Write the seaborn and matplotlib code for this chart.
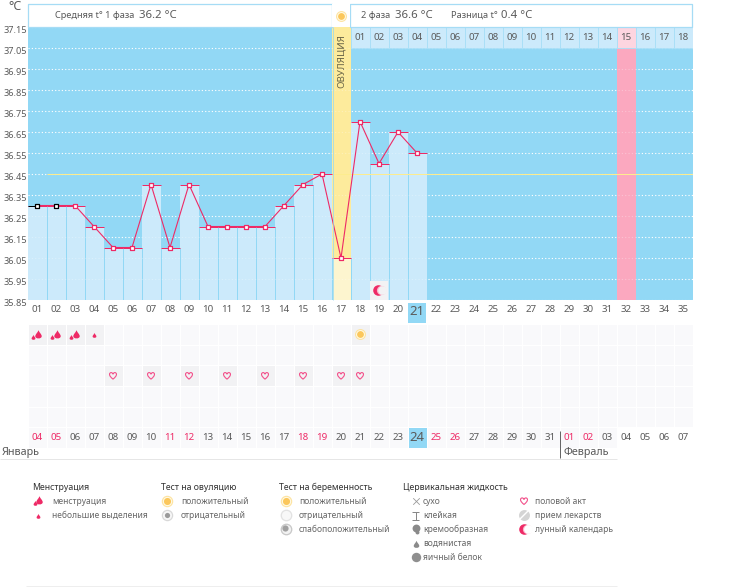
import numpy as np
import matplotlib
matplotlib.use("Agg")
import matplotlib.pyplot as plt
import seaborn as sns
from matplotlib.colors import ListedColormap
from matplotlib.path import Path
from matplotlib.transforms import ScaledTranslation

# Data
days = np.arange(1, 22)
temps = [36.3, 36.3, 36.3, 36.2, 36.1, 36.1, 36.4, 36.1, 36.4, 36.2, 36.2,
         36.2, 36.2, 36.3, 36.4, 36.45, 36.05, 36.7, 36.5, 36.65, 36.55]
cycle_days = np.arange(1, 36)
y_ticks = [37.15, 37.05, 36.95, 36.85, 36.75, 36.65, 36.55, 36.45, 36.35,
           36.25, 36.15, 36.05, 35.95, 35.85]
cover_temp = 36.45
ovulation_day = 17
expected_day = 32
today = 21
luteal_labels = ["%02d" % d for d in range(1, 19)]
date_labels = ["04", "05", "06", "07", "08", "09", "10", "11", "12", "13", "14", "15",
               "16", "17", "18", "19", "20", "21", "22", "23", "24", "25", "26", "27",
               "28", "29", "30", "31", "01", "02", "03", "04", "05", "06", "07"]
weekend_days = [1, 2, 8, 9, 15, 16, 22, 23, 29, 30]
heavy_days = [1, 2, 3]
light_days = [4]
test_days = [18]
heart_days = [5, 7, 9, 11, 13, 15, 17, 18]
moon_day = 19

BG_BLUE = "#92d8f5"
BAR_BLUE = "#cceafb"
YELLOW = "#fdeb9c"
PALE_YELLOW = "#fdf5cf"
PINK = "#fba8bf"
CRIMSON = "#ee2a66"
GREY_TEXT = "#5a5a5a"
CELL = "#f9f9fb"
CELL_ON = "#f2f2f4"
ONE_PX = 0.72  # a line this wide stays on one pixel row

C4 = Path.CURVE4
DROP = Path([(0, 1), (0.2, 0.45), (0.75, 0.05), (0.75, -0.4), (0.75, -1.1), (-0.75, -1.1),
             (-0.75, -0.4), (-0.75, 0.05), (-0.2, 0.45), (0, 1), (0, 1)],
            [Path.MOVETO, C4, C4, C4, C4, C4, C4, C4, C4, C4, Path.CLOSEPOLY])
HEART = Path([(0, -1), (-0.6, -0.5), (-1, -0.1), (-1, 0.4), (-1, 1), (-0.2, 1.1), (0, 0.45),
              (0.2, 1.1), (1, 1), (1, 0.4), (1, -0.1), (0.6, -0.5), (0, -1), (0, -1)],
             [Path.MOVETO, C4, C4, C4, C4, C4, C4, C4, C4, C4, C4, C4, C4, Path.CLOSEPOLY])

sns.set_style("white")
plt.rcParams["font.family"] = ["Noto Sans", "DejaVu Sans"]

W, H = 730, 587
fig = plt.figure(figsize=(W / 100, H / 100), dpi=100, facecolor="white")


def px_axes(x0, y0, x1, y1):
    return fig.add_axes([x0 / W, 1 - y1 / H, (x1 - x0) / W, (y1 - y0) / H])


def sun(ax, x, y, size=1.0, zorder=6):
    ax.scatter([x], [y], s=62 * size, color="#fde3a0", linewidths=0, zorder=zorder)
    ax.scatter([x], [y], s=40 * size, color="#fffbe8", linewidths=0, zorder=zorder)
    ax.scatter([x], [y], s=24 * size, color="#fbc75c", linewidths=0, zorder=zorder)


def moon(ax, x, y, back):
    ax.scatter([x], [y], s=58, color=CRIMSON, linewidths=0, zorder=6)
    ax.scatter([x + 3], [y], s=44, color="#fbb6cb", linewidths=0, zorder=6)
    ax.scatter([x + 4], [y], s=40, color=back, linewidths=0, zorder=6)


# Main temperature chart
ax = px_axes(27.5, 27, 692.5, 300)
ax.set_facecolor(BG_BLUE)
ax.set_axisbelow(True)
ax.yaxis.grid(True, color="white", lw=0.8, ls=(0, (1, 2)))
ax.xaxis.grid(False)

ax.fill_between([ovulation_day - 0.5, ovulation_day + 0.5], 35.85, 37.15, color=YELLOW, lw=0, zorder=1)
ax.fill_between([expected_day - 0.5, expected_day + 0.5], 35.85, 37.05, color=PINK, lw=0, zorder=1)

sns.barplot(x=days, y=temps, native_scale=True, width=1, color=BAR_BLUE, saturation=1,
            errorbar=None, linewidth=0, ax=ax, zorder=2)
ax.patches[ovulation_day - 1].set_facecolor(PALE_YELLOW)

# column separators only go up to the lower neighbour
for i in range(len(temps) - 1):
    top = min(temps[i], temps[i + 1])
    ax.vlines(days[i] + 0.5, 35.85, top, color=BG_BLUE, lw=ONE_PX, zorder=3)

# faint grid showing through the bars
ax.hlines(y_ticks[1:-1], 0.5, 35.5, color="white", lw=0.8, ls=(0, (1, 2)), alpha=0.3, zorder=3)

# luteal day header row
luteal_days = cycle_days[17:]
for d, lab in zip(luteal_days, luteal_labels):
    ax.bar(d, 0.1, bottom=37.05, width=1, color="#fdd5e0" if d == expected_day else BAR_BLUE,
           edgecolor="#a8dff7", linewidth=0.6, zorder=3)
    ax.text(d, 37.1, lab, ha="center", va="center", fontsize=7, color=GREY_TEXT, zorder=5)

ax.hlines(cover_temp, 1.5, 35.5, color="#fdec8e", lw=ONE_PX, zorder=4)
ax.hlines(temps, days - 0.5, days + 0.5, color=CRIMSON, lw=ONE_PX, zorder=4)
ax.hlines(temps[0], 0.5, 1, color="black", lw=ONE_PX, zorder=5)
sns.lineplot(x=days, y=temps, color=CRIMSON, lw=0.8, ax=ax, zorder=5, errorbar=None)
sns.scatterplot(x=days[2:], y=temps[2:], marker="s", s=10, color="white", edgecolor=CRIMSON,
                linewidth=0.9, ax=ax, zorder=6)
sns.scatterplot(x=days[:2], y=temps[:2], marker="s", s=10, color="white", edgecolor="black",
                linewidth=0.9, ax=ax, zorder=6)

ax.text(ovulation_day, 36.99, "ОВУЛЯЦИЯ", rotation=90, ha="center", va="center",
        fontsize=7, color="#6a6548", zorder=5)

# moon calendar cell on the chart
ax.bar(moon_day, 0.09, bottom=35.85, width=0.95, color=CELL_ON, linewidth=0, zorder=4)
ax.scatter([moon_day - 0.05], [35.9], s=58, color=CRIMSON, linewidths=0, zorder=6)
ax.scatter([moon_day + 0.1], [35.9], s=44, color="#fbb6cb", linewidths=0, zorder=6)
ax.scatter([moon_day + 0.17], [35.9], s=38, color=CELL_ON, linewidths=0, zorder=6)

# today's highlight under the axis
ax.bar(today, 0.095, bottom=35.74, width=0.95, color=BG_BLUE, linewidth=0, clip_on=False, zorder=0.2)

ax.set_xlim(0.5, 35.5)
ax.set_ylim(35.85, 37.15)
ax.set_xticks(cycle_days)
ax.set_xticklabels(["%02d" % d for d in cycle_days], fontsize=7, color=GREY_TEXT)
ax.xaxis.get_ticklabels()[today - 1].set_fontsize(9.5)
ax.set_yticks(y_ticks)
ax.set_yticklabels(["%.2f" % v for v in y_ticks], fontsize=6.6, color=GREY_TEXT)
ax.tick_params(axis="both", length=0)
ax.tick_params(axis="x", pad=3.5)
ax.tick_params(axis="y", pad=0.5)
shift = ScaledTranslation(0, -2.5 / 100, fig.dpi_scale_trans)
for lab in ax.get_yticklabels():
    lab.set_transform(lab.get_transform() + shift)
ax.set_xlabel("")
ax.set_ylabel("")
for s in ax.spines.values():
    s.set_visible(False)

# Symptom rows and calendar dates
ax_rows = px_axes(27.5, 324, 692.5, 448)
cells = np.zeros((6, 35))
for d in heavy_days + light_days + test_days:
    cells[0, d - 1] = 1
for d in heart_days:
    cells[2, d - 1] = 1
cells[5, today - 1] = 2
cell_mask = np.zeros_like(cells, dtype=bool)
cell_mask[5, 31:] = True
sns.heatmap(cells, mask=cell_mask, cmap=ListedColormap([CELL, CELL_ON, BG_BLUE]), vmin=0, vmax=2,
            cbar=False, linewidths=0.7, linecolor="white", xticklabels=False, yticklabels=False, ax=ax_rows)
for d, lab in zip(cycle_days, date_labels):
    size = 9.5 if d == today else 7
    ax_rows.text(d - 0.5, 5.5, lab, ha="center", va="center", fontsize=size,
                 color=CRIMSON if d in weekend_days else GREY_TEXT)

# icons on the rows, 1 row is about 20.7 px and 1 column 19 px
for d in heavy_days:
    ax_rows.scatter([d - 0.46], [0.48], s=46, marker=DROP, color=CRIMSON, linewidths=0, zorder=6)
    ax_rows.scatter([d - 0.69], [0.62], s=16, marker=DROP, color=CRIMSON, linewidths=0, zorder=6)
for d in light_days:
    ax_rows.scatter([d - 0.5], [0.52], s=16, marker=DROP, color=CRIMSON, linewidths=0, zorder=6)
for d in test_days:
    sun(ax_rows, d - 0.5, 0.5)
for d in heart_days:
    ax_rows.scatter([d - 0.5], [2.5], s=30, marker=HEART, facecolor="none", edgecolor="#f2508a",
                    linewidth=0.8, zorder=6)
ax_rows.vlines(28, 5.2, 6.5, color="#666666", lw=ONE_PX, clip_on=False)

# Overlay in pixel coordinates: header boxes, month labels, legend
ov = fig.add_axes([0, 0, 1, 1], facecolor="none")
ov.set_xlim(0, W)
ov.set_ylim(H, 0)
ov.axis("off")


def header_box(x0, x1):
    ov.fill_between([x0, x1], 3.5, 27, facecolor="white", edgecolor="#a6dcf5", lw=0.9)


def label(x, y, s, size=6.6, color=GREY_TEXT, **kw):
    ov.text(x, y, s, fontsize=size, color=color, va="center", ha=kw.pop("ha", "left"), **kw)


header_box(27.5, 332)
header_box(350, 692)
ov.fill_between([332, 350], 3.5, 27, facecolor="white", lw=0)
ov.vlines(332.5, 27, 300, color=BG_BLUE, lw=0.5)
sun(ov, 341, 16)
label(55, 15.5, "Средняя t° 1 фаза")
label(139, 15.5, "36.2 °C", size=8.2)
label(361, 15.5, "2 фаза")
label(395, 15.5, "36.6 °C", size=8.2)
label(451, 15.5, "Разница t°")
label(501, 15.5, "0.4 °C", size=8.2)
label(8, 7, "°C", size=9)

label(2, 453, "Январь", size=7.8)
label(563, 453, "Февраль", size=7.8)
ov.hlines(458.5, 0, 617, color="#e6e6e6", lw=ONE_PX)
ov.hlines(585.5, 26, 617, color="#eeeeee", lw=ONE_PX)

# Legend
HEAD = "#333333"
TXT = "#666666"
LEG = 6.1
label(32, 487, "Менструация", size=LEG + 0.2, color=HEAD)
label(52, 501, "менструация", size=LEG, color=TXT)
label(52, 515, "небольшие выделения", size=LEG, color=TXT)
ov.scatter([38.5], [500], s=46, marker=DROP, color=CRIMSON, linewidths=0)
ov.scatter([34.5], [503], s=16, marker=DROP, color=CRIMSON, linewidths=0)
ov.scatter([37.5], [516], s=16, marker=DROP, color=CRIMSON, linewidths=0)

label(161, 487, "Тест на овуляцию", size=LEG + 0.2, color=HEAD)
label(181, 501, "положительный", size=LEG, color=TXT)
label(181, 515, "отрицательный", size=LEG, color=TXT)
sun(ov, 167, 501, 1.1)
ov.scatter([167], [515], s=68, color="#d8d8d8", linewidths=0)
ov.scatter([167], [515], s=42, color="#f6f6f6", linewidths=0)
ov.scatter([167], [515], s=14, color="#9a9a9a", linewidths=0)

label(279, 487, "Тест на беременность", size=LEG + 0.2, color=HEAD)
label(299, 501, "положительный", size=LEG, color=TXT)
label(299, 515, "отрицательный", size=LEG, color=TXT)
label(299, 529, "слабоположительный", size=LEG, color=TXT)
sun(ov, 286, 501, 1.1)
ov.scatter([286], [515], s=72, color="#e2e2e2", linewidths=0)
ov.scatter([286], [515], s=44, color="#f8f8f8", linewidths=0)
ov.scatter([286], [529], s=72, color="#c8c8c8", linewidths=0)
ov.scatter([286], [529], s=44, color="#f2f2f2", linewidths=0)
ov.scatter([285], [528], s=20, color="#a0a0a0", linewidths=0)

label(403, 487, "Цервикальная жидкость", size=LEG + 0.2, color=HEAD)
for yy, s in zip([501, 515, 529, 543, 557], ["сухо", "клейкая", "кремообразная", "водянистая", "яичный белок"]):
    label(423, yy, s, size=LEG, color=TXT)
ov.scatter([415.5], [501], s=22, marker="x", color="#9a9a9a", linewidths=0.6)
ov.hlines([511.5, 519.5], 412, 419, color="#888888", lw=ONE_PX)
ov.vlines(415.5, 511.5, 519.5, color="#888888", lw=ONE_PX)
ov.scatter([415.5], [528], s=32, color="#8a8a8a", linewidths=0)
ov.scatter([417], [532], s=8, color="#8a8a8a", linewidths=0)
ov.scatter([415.5], [543.5], s=34, marker=DROP, color="#8a8a8a", linewidths=0)
ov.scatter([415.5], [557], s=46, marker="o", color="#8f8f8f", linewidths=0)

for yy, s in zip([501, 515, 529], ["половой акт", "прием лекарств", "лунный календарь"]):
    label(535, yy, s, size=LEG, color=TXT)
ov.scatter([524], [501], s=30, marker=HEART, facecolor="none", edgecolor="#f2508a", linewidth=0.8)
ov.scatter([524], [515], s=62, color="#d4d4d4", linewidths=0)
ov.plot([520, 528], [519, 511], color="white", lw=1)
moon(ov, 524, 529, "white")

fig.savefig("out.png", dpi=100)
